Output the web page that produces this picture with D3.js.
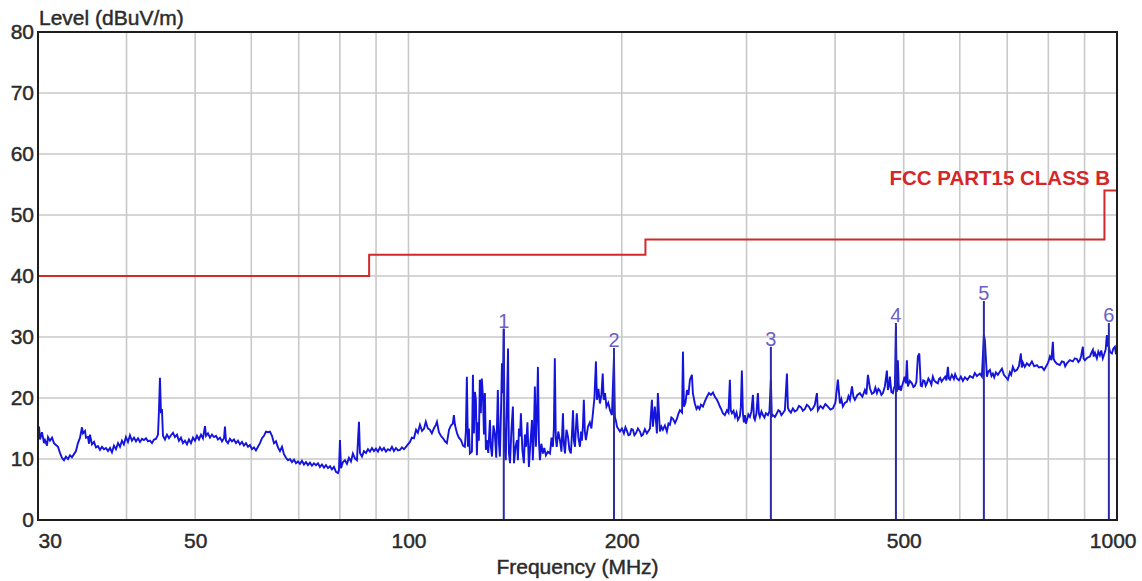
<!DOCTYPE html>
<html>
<head>
<meta charset="utf-8">
<script src="https://cdn.jsdelivr.net/npm/d3@7"></script>
<style>
  html, body { margin: 0; padding: 0; background: #ffffff; }
  svg { display: block; font-family: "Liberation Sans", Arial, sans-serif; }
</style>
</head>
<body>
<svg id="chart" width="1142" height="581"></svg>
<script>
// Radiated emission scan, 30 MHz - 1 GHz, with FCC Part 15 Class B limit

// Axis ticks
const levelTicks = [0, 10, 20, 30, 40, 50, 60, 70, 80];
const freqLabels = [30, 50, 100, 200, 500, 1000];
const freqGrid = [40, 50, 60, 70, 80, 90, 100, 200, 300, 400, 500, 600, 700, 800, 900];

// Limit line: [start MHz, stop MHz, dBuV/m]
const limitBands = [
  [30, 88, 40],
  [88, 216, 43.5],
  [216, 960, 46],
  [960, 1000, 54]
];
const limitLabel = "FCC PART15 CLASS B";

// Markers
const markerIds = ["1", "2", "3", "4", "5", "6"];
const markerFreqs = [136.3, 195.0, 324.7, 487.5, 648.8, 973.9];
const markerLevels = [31.3, 28.2, 28.4, 32.3, 35.9, 32.3];

// Measured trace: [MHz, dBuV/m]
const traceData = [
  [30.00,14.0],[30.10,15.3],[30.20,13.2],[30.39,14.4],[30.59,12.6],[30.69,13.1],[30.89,12.2],
  [30.99,13.6],[31.19,13.0],[31.40,13.5],[31.60,12.6],[31.80,12.3],
  [32.01,12.0],[32.22,11.0],[32.43,10.2],[32.64,9.8],[32.85,10.4],
  [33.07,10.0],[33.29,10.6],[33.50,10.3],[33.72,10.8],[33.94,11.3],
  [34.16,12.6],[34.39,13.5],[34.61,15.2],[34.72,14.2],[34.95,14.6],[35.06,13.5],
  [35.29,13.6],[35.41,12.5],[35.52,14.0],[35.75,12.4],[35.99,12.8],[36.22,11.9],
  [36.46,12.1],[36.70,11.5],[36.93,12.0],[37.18,11.6],[37.42,11.8],
  [37.66,11.3],[37.91,11.8],[38.15,11.1],[38.40,12.2],[38.65,11.6],
  [38.91,12.6],[39.16,12.0],[39.41,13.0],[39.66,12.4],[39.92,13.6],
  [40.19,12.8],[40.45,13.9],[40.71,13.0],[40.98,13.5],[41.25,12.9],
  [41.52,13.4],[41.79,12.8],[42.06,13.3],[42.33,13.1],[42.61,13.4],
  [42.89,12.9],[43.17,13.0],[43.45,12.6],[43.73,13.2],[44.02,13.3],
  [44.31,14.0],[44.45,18.0],[44.59,23.3],[44.74,17.5],[44.88,18.2],[45.03,13.8],[45.32,13.2],[45.62,14.0],
  [45.92,13.4],[46.22,13.9],[46.52,14.3],[46.82,13.6],[47.13,14.0],
  [47.43,13.0],[47.74,13.5],[48.05,12.6],[48.37,13.0],[48.69,12.4],
  [49.00,13.2],[49.32,12.6],[49.64,13.5],[49.97,13.0],[50.29,13.8],
  [50.62,13.2],[50.95,14.0],[51.28,13.4],[51.62,15.4],[51.79,13.8],
  [52.12,14.2],[52.46,13.5],[52.80,14.0],[53.15,13.6],[53.50,13.8],
  [53.84,13.2],[54.20,13.5],[54.55,12.9],[54.91,13.4],[55.08,15.3],[55.26,13.0],
  [55.62,12.6],[55.98,13.3],[56.35,12.9],[56.72,13.2],[57.09,12.6],
  [57.46,13.0],[57.83,12.4],[58.21,12.8],[58.59,12.2],[58.97,12.6],
  [59.36,12.0],[59.74,12.3],[60.13,11.6],[60.53,11.9],[60.92,11.4],
  [61.32,12.0],[61.72,12.6],[62.12,13.4],[62.52,13.8],[62.93,14.5],
  [63.34,14.4],[63.76,14.5],[64.17,13.8],[64.59,12.6],[65.01,12.9],
  [65.43,11.9],[65.86,11.3],[66.29,12.0],[66.72,10.8],[67.16,10.2],
  [67.60,9.8],[68.04,10.0],[68.48,9.5],[68.93,9.9],[69.38,9.3],
  [69.83,9.6],[70.28,9.2],[70.74,9.7],[71.20,9.1],[71.67,9.5],
  [72.13,9.0],[72.60,9.4],[73.08,8.9],[73.55,9.3],[74.03,9.0],
  [74.52,9.3],[75.00,8.7],[75.49,9.1],[75.99,8.6],[76.48,9.0],
  [76.98,8.5],[77.48,8.8],[77.98,8.3],[78.49,8.7],[79.00,7.9],
  [79.52,7.7],[79.78,8.2],[80.04,13.1],[80.30,8.5],[80.82,9.5],[81.35,9.8],[81.88,9.2],
  [82.41,10.2],[82.95,9.6],[83.48,10.9],[84.03,10.1],[84.58,9.8],
  [84.86,13.0],[85.14,16.1],[85.41,11.0],[85.97,10.4],[86.53,11.3],[87.10,11.0],
  [87.66,11.6],[88.23,11.2],[88.81,11.8],[89.39,11.3],[89.97,11.7],
  [90.56,11.2],[91.15,11.9],[91.74,11.4],[92.34,11.8],[92.94,11.2],
  [93.55,11.6],[94.16,11.4],[94.77,12.0],[95.39,11.3],[96.01,11.8],
  [96.64,11.4],[97.27,11.5],[97.91,11.9],[98.54,11.6],[99.19,12.0],
  [99.83,12.4],[100.5,12.8],[101.1,13.5],[101.8,13.4],[102.5,14.8],
  [103.1,14.3],[103.8,15.6],[104.5,14.6],[105.2,15.0],[105.8,16.1],
  [106.5,15.0],[107.2,14.8],[107.9,14.2],[108.6,15.0],[109.3,15.6],[109.7,16.1],
  [110.4,14.4],[111.1,13.8],[111.9,13.4],[112.6,12.9],[113.3,12.6],
  [114.1,14.8],[114.8,15.5],[115.5,15.8],[115.9,17.2],[116.3,15.6],[117.1,14.2],
  [117.8,13.5],[118.6,13.1],[119.4,12.2],[120.1,12.0],[120.5,14.5],[120.9,23.5],
  [121.3,12.0],[121.7,15.0],[122.1,10.9],[122.9,11.2],[123.3,23.8],[123.7,14.2],[124.1,21.0],[124.5,19.7],[124.9,10.6],
  [125.3,16.0],[125.7,13.0],[126.1,23.0],[126.5,17.5],[126.9,23.2],[127.4,20.2],[127.8,14.0],[128.2,20.8],[128.6,11.5],[129.0,13.1],
  [129.6,11.0],[130.3,16.4],[130.7,12.0],[131.2,10.4],[131.8,15.5],[132.4,14.2],[133.0,10.2],
  [133.7,21.3],[134.2,12.5],[134.6,10.4],[135.1,18.0],[135.5,25.7],[135.9,20.8],[136.3,31.4],[136.7,12.0],[137.2,9.8],
  [137.7,18.5],[138.2,28.1],[138.6,11.0],[139.1,9.3],[139.7,14.5],[140.4,18.6],[140.9,9.3],[141.6,12.0],[142.3,13.1],
  [142.7,9.8],[143.2,15.0],[143.7,13.7],[144.1,17.5],[144.8,11.5],[145.5,9.3],[146.0,14.0],[146.5,12.0],[147.2,16.0],
  [147.9,8.7],[148.6,12.5],[149.4,16.4],[149.8,9.8],[150.3,14.0],[150.8,21.9],[151.3,12.0],[151.8,16.9],
  [152.3,25.1],[152.8,13.0],[153.3,9.8],[154.0,12.5],[154.8,10.9],[155.5,11.8],[156.3,10.6],
  [157.3,11.2],[158.4,10.9],[159.2,13.5],[159.9,12.0],[160.4,15.0],[160.9,26.5],[161.4,13.5],[161.9,12.0],
  [162.7,14.5],[163.6,13.1],[164.4,11.2],[165.2,17.5],[165.7,12.5],[166.3,10.9],[167.1,14.8],
  [167.9,13.7],[168.7,11.5],[169.5,10.9],[170.1,14.0],[170.7,18.0],[171.2,13.0],[171.8,12.0],[172.3,15.0],[172.8,17.5],
  [173.7,13.5],[174.6,12.0],[175.2,14.5],[175.7,13.0],[176.3,15.5],[176.8,19.7],[177.4,14.5],[178.0,13.1],
  [179.2,15.3],[180.3,16.0],[181.2,15.0],[182.1,17.5],[183.0,20.0],[183.9,26.0],[184.5,19.7],[185.4,21.5],
  [186.3,19.1],[187.2,20.5],[188.0,24.0],[188.6,19.7],[189.4,20.8],[190.3,18.6],[191.4,19.2],
  [192.5,18.0],[193.7,17.2],[195.0,26.8],[195.6,16.9],[196.3,16.2],[196.9,15.3],
  [198.8,14.5],[200.1,15.0],[201.4,14.2],[202.4,15.2],[203.4,14.6],[204.4,13.9],
  [205.4,14.0],[206.4,14.9],[207.4,14.8],[208.4,13.9],[209.4,14.2],[210.8,15.0],
  [212.2,14.5],[213.2,13.8],[214.2,14.0],[215.6,14.9],[217.0,14.2],[218.1,14.6],
  [219.2,15.0],[220.6,19.7],[221.3,15.3],[222.7,18.6],[224.2,14.2],
  [224.9,20.8],[226.4,14.5],[227.5,15.3],[228.6,14.8],[230.1,15.5],[231.6,14.5],[232.8,15.8],
  [233.9,15.6],[235.0,16.8],[236.2,16.6],[237.8,15.9],[239.3,16.6],[240.4,17.4],
  [241.6,18.0],[243.3,17.6],[244.0,27.6],[244.8,18.6],[246.0,19.2],[247.2,21.3],[248.4,20.5],
  [249.6,23.0],[251.2,23.8],[252.0,20.8],[253.6,19.1],[255.0,18.2],
  [256.2,18.6],[257.5,18.2],[258.7,18.9],[260.4,18.6],[262.1,19.5],[263.8,20.2],[265.5,20.8],
  [267.2,20.5],[269.0,20.9],[270.7,20.2],[272.5,19.7],[273.8,19.2],
  [275.1,18.6],[276.5,18.1],[277.8,17.5],[279.6,17.2],[281.5,18.0],[282.9,17.6],
  [284.2,23.0],[285.0,18.0],[286.1,17.5],[287.6,17.9],[289.0,16.9],[290.4,17.6],
  [291.7,16.4],[293.6,17.0],[294.5,18.5],[295.5,24.5],[296.5,17.5],[297.4,16.0],[298.4,17.2],[299.4,15.8],[300.4,16.4],
  [301.8,17.3],[303.3,16.9],[304.8,17.8],[306.3,20.5],[307.3,16.8],[308.3,16.4],[309.8,17.5],
  [311.3,20.8],[312.3,17.4],[313.3,16.9],[314.9,17.8],[316.4,17.2],[318.0,16.8],[319.5,17.5],
  [321.6,17.2],[323.2,17.8],[324.7,23.0],[325.7,17.0],[326.8,17.2],[329.0,16.9],[331.1,17.5],
  [332.7,18.0],[334.4,17.8],[336.0,17.2],[337.6,17.5],[339.8,18.0],[342.1,24.0],
  [343.2,18.4],[344.3,18.0],[346.5,17.6],[348.8,18.3],[351.0,17.8],[353.4,18.0],[355.7,18.7],
  [358.0,18.5],[360.3,17.9],[362.7,18.2],[365.0,18.9],
  [367.4,18.6],[369.8,18.0],[372.2,18.3],[374.6,18.9],[377.1,20.8],
  [378.3,18.0],[381.4,18.7],[384.5,18.3],[387.6,19.0],
  [390.8,18.6],[394.0,18.1],[397.2,18.3],[400.4,19.2],
  [403.7,23.0],[406.4,19.1],[408.3,19.8],[410.3,18.6],[413.0,19.2],[415.7,19.4],[417.8,20.3],
  [419.8,19.7],[422.6,21.9],[424.6,20.2],[426.6,19.7],[430.1,20.5],
  [433.6,20.8],[437.1,20.2],[440.7,21.3],[442.9,20.6],
  [445.1,23.8],[448.0,21.6],[450.9,20.7],[453.8,20.9],[456.0,21.7],[458.3,20.8],[460.5,21.5],
  [462.8,21.2],[465.0,20.5],[467.3,20.8],[470.3,21.9],
  [473.4,24.5],[474.9,21.3],[476.5,21.9],[478.0,23.5],[480.3,21.0],[482.7,20.8],[484.3,21.6],[485.9,22.0],
  [487.5,31.7],[489.0,21.0],[490.6,26.2],[492.2,21.3],[493.8,22.0],[495.4,21.2],[497.0,21.9],[499.2,22.6],[501.4,23.5],
  [503.5,22.4],[505.2,26.2],[506.8,21.9],[510.0,22.8],[513.5,22.4],[516.0,21.8],[518.5,22.0],
  [521.0,22.6],[523.6,26.8],[526.0,27.3],[528.5,22.0],[530.4,21.9],[532.7,22.9],[535.0,22.8],[537.0,22.0],[539.1,22.4],
  [541.8,23.2],[544.4,22.8],[547.0,22.2],[549.7,23.5],[552.0,22.9],[555.1,22.6],
  [558.7,22.4],[560.8,23.1],[563.0,23.3],[565.5,22.7],[567.9,23.0],[572.0,23.5],[574.5,22.9],
  [577.2,25.1],[579.0,23.2],[581.0,23.0],[584.7,23.8],[588.6,23.1],[591.0,23.9],
  [594.3,23.2],[598.2,22.9],[602.1,23.5],[606.0,22.8],[610.0,23.4],
  [615.0,23.0],[620.0,23.6],[626.0,23.3],[630.0,24.1],[634.2,23.6],
  [640.4,24.0],[644.6,23.5],[648.8,30.3],[650.9,29.5],[655.2,23.5],
  [658.0,24.3],[661.6,24.6],[665.0,23.6],[668.1,24.0],[671.0,23.4],[674.6,24.2],
  [679.0,23.8],[683.4,24.3],[688.0,24.8],[692.4,23.8],[697.0,23.4],
  [701.4,23.0],[706.0,24.2],[709.0,23.8],[712.9,25.1],[717.0,24.4],[722.2,24.6],
  [727.0,25.2],[731.7,27.3],[734.0,25.0],[736.5,25.8],[741.0,25.1],[746.1,25.7],
  [752.0,25.3],[758.3,26.0],[764.0,25.2],[770.8,25.4],
  [776.0,25.0],[783.4,25.1],[789.0,24.6],[796.2,25.4],
  [800.0,25.9],[804.0,26.8],[808.0,26.2],[811.9,29.2],[814.0,26.4],[817.2,26.0],
  [823.0,25.6],[830.6,25.4],[836.0,26.0],[841.4,25.9],[845.0,25.2],[849.7,25.7],
  [858.0,26.2],[866.4,26.0],[872.0,26.5],[877.7,26.4],
  [882.0,25.9],[886.3,26.2],[890.0,26.9],[895.0,28.4],[897.0,26.5],[900.8,26.2],
  [908.0,26.6],[915.6,26.8],[920.0,27.4],[924.6,27.9],[927.0,26.8],[931.0,27.4],[936.7,26.5],
  [941.0,27.6],[945.8,27.0],[950.0,27.8],[954.9,26.5],[960.0,27.3],[964.0,28.0],[967.6,30.3],
  [970.0,28.6],[973.9,28.4],[978.0,27.5],[983.5,27.3],[988.0,28.1],[993.1,28.4],[996.0,27.4],[1000,27.6]
];

// Layout
const plot = { left: 38, top: 32, right: 1117, bottom: 520 };

const svg = d3.select("#chart");

const x = d3.scaleLog().domain([30, 1000]).range([plot.left, plot.right]);
const y = d3.scaleLinear().domain([0, 80]).range([plot.bottom, plot.top]);

const textColor = "#2b2b2b";
const gridColor = "#c9c9c9";

// Grid
const grid = svg.append("g").attr("class", "grid")
  .attr("stroke", gridColor).attr("stroke-width", 1.6);

grid.selectAll("line.v").data(freqGrid).join("line")
  .attr("class", "v")
  .attr("x1", d => x(d)).attr("x2", d => x(d))
  .attr("y1", plot.top).attr("y2", plot.bottom);

grid.selectAll("line.h").data(levelTicks.slice(1, -1)).join("line")
  .attr("class", "h")
  .attr("x1", plot.left).attr("x2", plot.right)
  .attr("y1", d => y(d)).attr("y2", d => y(d));

// Clip region for data
svg.append("clipPath").attr("id", "plot-clip")
  .append("rect")
  .attr("x", plot.left).attr("y", plot.top)
  .attr("width", plot.right - plot.left).attr("height", plot.bottom - plot.top);

const data = svg.append("g").attr("clip-path", "url(#plot-clip)");

// Limit line (step)
const limitPoints = [];
limitBands.forEach(b => { limitPoints.push([b[0], b[2]]); limitPoints.push([b[1], b[2]]); });
data.append("path")
  .datum(limitPoints)
  .attr("fill", "none")
  .attr("stroke", "#d02a2a")
  .attr("stroke-width", 2)
  .attr("d", d3.line().x(d => x(d[0])).y(d => y(d[1])));

// Measured trace
data.append("path")
  .datum(traceData)
  .attr("fill", "none")
  .attr("stroke", "#1414dc")
  .attr("stroke-width", 1.9)
  .attr("stroke-linejoin", "miter")
  .attr("d", d3.line().x(d => x(d[0])).y(d => y(d[1])));

// Marker lines
const markers = markerIds.map((id, i) => ({ id, f: markerFreqs[i], level: markerLevels[i] }));
data.selectAll("line.marker").data(markers).join("line")
  .attr("class", "marker")
  .attr("x1", d => x(d.f)).attr("x2", d => x(d.f))
  .attr("y1", y(0)).attr("y2", d => y(d.level))
  .attr("stroke", "#2a2aa6")
  .attr("stroke-width", 2);

svg.selectAll("text.marker-label").data(markers).join("text")
  .attr("class", "marker-label")
  .attr("x", d => x(d.f))
  .attr("y", d => y(d.level) - 1)
  .attr("text-anchor", "middle")
  .attr("font-size", 20)
  .attr("fill", "#6a60c8")
  .text(d => d.id);

// Limit label
svg.append("text")
  .attr("x", 1110)
  .attr("y", y(54) - 6)
  .attr("text-anchor", "end")
  .attr("font-size", 20.5)
  .attr("font-weight", "bold")
  .attr("fill", "#d42828")
  .text(limitLabel);

// Plot frame
svg.append("rect")
  .attr("x", plot.left).attr("y", plot.top)
  .attr("width", plot.right - plot.left).attr("height", plot.bottom - plot.top)
  .attr("fill", "none")
  .attr("stroke", "#1e1e1e")
  .attr("stroke-width", 2);

// Slightly heavier text strokes for axis labels
function heavy(sel) {
  sel.attr("fill", textColor)
    .attr("stroke", textColor)
    .attr("stroke-width", 0.45)
    .attr("font-family", "Liberation Sans, Arial, sans-serif");
}

// Y axis labels
const yAxis = svg.append("g")
  .attr("transform", `translate(${plot.left},0)`)
  .call(d3.axisLeft(y).tickValues(levelTicks).tickSize(0).tickPadding(4));
yAxis.select(".domain").remove();
yAxis.selectAll("text").attr("font-size", 21).call(heavy);

// X axis labels
const xAxis = svg.append("g")
  .attr("transform", `translate(0,${plot.bottom})`)
  .call(d3.axisBottom(x).tickValues(freqLabels).tickFormat(d3.format("d")).tickSize(0).tickPadding(13));
xAxis.select(".domain").remove();
xAxis.selectAll("text").attr("font-size", 21).call(heavy);
xAxis.selectAll(".tick").filter(d => d === freqLabels[0])
  .select("text").attr("text-anchor", "start");
xAxis.selectAll(".tick").filter(d => d === freqLabels[freqLabels.length - 1])
  .select("text").attr("text-anchor", "end").attr("x", 19);

// Axis titles
svg.append("text")
  .attr("x", plot.left + 1)
  .attr("y", 25)
  .attr("font-size", 21)
  .call(heavy)
  .text("Level (dBuV/m)");

svg.append("text")
  .attr("x", (plot.left + plot.right) / 2)
  .attr("y", 574)
  .attr("text-anchor", "middle")
  .attr("font-size", 21)
  .call(heavy)
  .text("Frequency (MHz)");
</script>
</body>
</html>
